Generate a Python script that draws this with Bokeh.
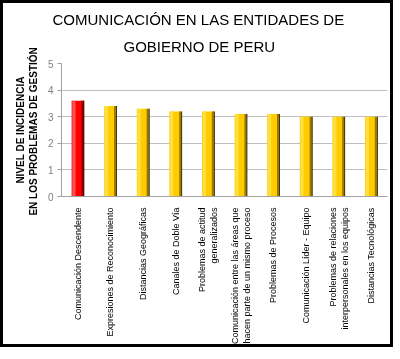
import math
from bokeh.plotting import figure
from bokeh.models import FactorRange, Range1d, FixedTicker, ColumnDataSource, Title
from bokeh.transform import dodge
from bokeh.embed import file_html
from bokeh.resources import INLINE

title_lines = ["COMUNICACIÓN EN LAS ENTIDADES DE", "GOBIERNO DE PERU"]
categories = [
    "Comunicación Descendente",
    "Expresiones de Reconocimiento",
    "Distancias Geográficas",
    "Canales de Doble Vía",
    "Problemas de actitud\ngeneralizados",
    "Comunicación entre las áreas que\nhacen parte de un mismo proceso",
    "Problemas de Procesos",
    "Comunicación Líder - Equipo",
    "Problemas de relaciones\ninterpersonales en los equipos",
    "Distancias Tecnológicas",
]
values = [3.6, 3.4, 3.3, 3.2, 3.2, 3.1, 3.1, 3.0, 3.0, 3.0]
y_ticks = [0, 1, 2, 3, 4, 5]
bar_colors = ["#FF0000"] + ["#FFCC00"] * 9
dark_colors = ["#A00000"] + ["#9A7A00"] * 9
light_colors = ["#FF5050"] + ["#FFE040"] * 9

src = ColumnDataSource(dict(cat=categories, val=values, col=bar_colors,
                            dark=dark_colors, light=light_colors))

p = figure(width=393, height=347, output_backend="svg", toolbar_location=None,
           x_range=FactorRange(factors=categories), y_range=Range1d(0, 5),
           min_border_left=58, min_border_right=9, min_border_top=60, min_border_bottom=154,
           title=title_lines[0])
p.styles = {"border": "3px solid black", "position": "fixed", "left": "0px", "top": "0px"}

p.title.align = "left"
p.title.offset = -9
p.title.text_font = "Liberation Sans"
p.title.text_font_size = "15px"
p.title.text_font_style = "normal"
p.title.text_color = "black"
p.title.standoff = 0
t2 = Title(text=title_lines[1], align="left", offset=62, text_font="Liberation Sans",
           text_font_size="15px", text_font_style="normal", text_color="black", standoff=17)
p.add_layout(t2, "above")

p.vbar(x="cat", top="val", width=0.38, source=src, fill_color="col", line_color=None)
p.vbar(x=dodge("cat", -0.12, range=p.x_range), top="val", width=0.1, source=src,
       fill_color="light", line_color=None)
p.vbar(x=dodge("cat", 0.15, range=p.x_range), top="val", width=0.08, source=src,
       fill_color="dark", line_color=None)
p.vbar(x=dodge("cat", 0.19, range=p.x_range), top="val", width=0.02, source=src,
       fill_color="black", line_color=None)

p.outline_line_color = None
p.xgrid.grid_line_color = None
p.ygrid.grid_line_color = "#BFBFBF"
p.ygrid.ticker = FixedTicker(ticks=y_ticks)

p.yaxis.ticker = FixedTicker(ticks=y_ticks)
p.yaxis.axis_line_color = "#A0A0A0"
p.yaxis.major_tick_line_color = "#A0A0A0"
p.yaxis.major_tick_out = 4
p.yaxis.major_tick_in = 0
p.yaxis.minor_tick_line_color = None
p.yaxis.major_label_text_color = "#808080"
p.yaxis.major_label_text_font = "Liberation Sans"
p.yaxis.major_label_text_font_size = "10px"
p.yaxis.major_label_standoff = 4
p.yaxis.axis_label = "NIVEL DE INCIDENCIA\nEN  LOS PROBLEMAS DE GESTIÓN"
p.yaxis.axis_label_text_font = "Liberation Sans"
p.yaxis.axis_label_text_font_size = "10px"
p.yaxis.axis_label_text_font_style = "bold"
p.yaxis.axis_label_text_color = "black"
p.yaxis.axis_label_standoff = 6

p.xaxis.axis_line_color = "#A0A0A0"
p.xaxis.major_tick_line_color = None
p.xaxis.major_label_orientation = math.pi / 2
p.xaxis.major_label_text_font = "Liberation Sans"
p.xaxis.major_label_text_font_size = "9px"
p.xaxis.major_label_text_color = "black"
p.xaxis.major_label_standoff = 5

open("out.html", "w").write(file_html(p, INLINE))
